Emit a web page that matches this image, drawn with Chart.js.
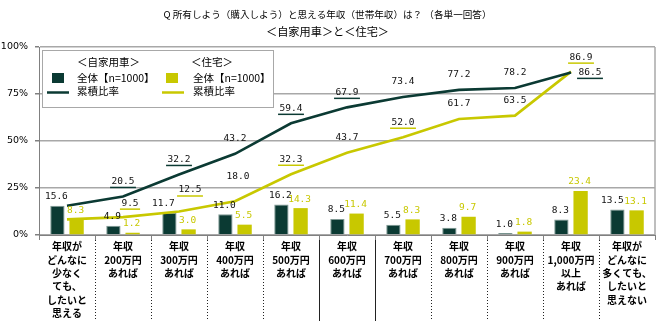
<!DOCTYPE html>
<html><head><meta charset="utf-8">
<script src="https://cdn.jsdelivr.net/npm/chart.js@4.4.1/dist/chart.umd.min.js"></script>
<style>html,body{margin:0;padding:0;background:#fff;}#wrap{position:relative;width:657px;height:324px;}</style>
</head><body><div id="wrap"><canvas id="c" width="657" height="324"></canvas></div>
<script>
// ---- data ----
const categories = [
  ['年収が','どんなに','少なく','ても、','したいと','思える'],
  ['年収','200万円','あれば'],
  ['年収','300万円','あれば'],
  ['年収','400万円','あれば'],
  ['年収','500万円','あれば'],
  ['年収','600万円','あれば'],
  ['年収','700万円','あれば'],
  ['年収','800万円','あれば'],
  ['年収','900万円','あれば'],
  ['年収','1,000万円','以上','あれば'],
  ['年収が','どんなに','多くても、','したいと','思えない']
];
const carShare = [15.6, 4.9, 11.7, 11.0, 16.2, 8.5, 5.5, 3.8, 1.0, 8.3, 13.5];
const houseShare = [8.3, 1.2, 3.0, 5.5, 14.3, 11.4, 8.3, 9.7, 1.8, 23.4, 13.1];
const carCumulative = [15.6, 20.5, 32.2, 43.2, 59.4, 67.9, 73.4, 77.2, 78.2, 86.5, null];
const houseCumulative = [8.3, 9.5, 12.5, 18.0, 32.3, 43.7, 52.0, 61.7, 63.5, 86.9, null];
const yTickValues = [0, 25, 50, 75, 100];
const titleLine = 'Q 所有しよう（購入しよう）と思える年収（世帯年収）は？ （各単一回答）';
const subtitleLine = '＜自家用車＞と＜住宅＞';
const legendHeaders = ['＜自家用車＞', '＜住宅＞'];
const legendBarLabel = '全体【n=1000】';
const legendLineLabel = '累積比率';

// ---- styles ----
const DARK = '#0b3a33';
const YEL = '#c8c800';
const carUnderline = [false, true, true, false, true, true, false, false, false, true];
const houseUnderline = [false, true, true, false, true, false, true, false, false, true];
const carNudge = {9: [19, 0]};
const houseNudge = {1: [7, -14], 2: [11, -21.5], 3: [3, -24.5], 9: [10, -14.5]};
const carBarNudge = {2: -6, 10: -5};
const NUMFONT = '9.5px "DejaVu Sans Mono"';
const JPFONT = '"Noto Sans CJK JP"';

const valueLabels = {
  id: 'valueLabels',
  afterDatasetsDraw(chart) {
    const ctx = chart.ctx;
    ctx.save();
    ctx.font = NUMFONT;
    ctx.textAlign = 'center';
    ctx.textBaseline = 'middle';
    [0, 1].forEach(di => {
      const meta = chart.getDatasetMeta(di);
      const ds = chart.data.datasets[di];
      meta.data.forEach((el, i) => {
        const dx = di === 0 ? (carBarNudge[i] || -1) : -1;
        ctx.fillStyle = di === 0 ? '#111111' : YEL;
        ctx.fillText(ds.data[i].toFixed(1), el.x + dx, el.y - 9);
      });
    });
    [[2, carUnderline, carNudge, DARK], [3, houseUnderline, houseNudge, YEL]].forEach(([di, ul, nudge, col]) => {
      const meta = chart.getDatasetMeta(di);
      const ds = chart.data.datasets[di];
      meta.data.forEach((el, i) => {
        const v = ds.data[i];
        if (i === 0 || v === null) return;
        const n = nudge[i] || [0, -15];
        const x = el.x + n[0], y = el.y + n[1];
        const txt = v.toFixed(1);
        ctx.fillStyle = '#111111';
        ctx.fillText(txt, x, y);
        if (ul[i]) {
          const w = ctx.measureText(txt).width + 3;
          ctx.strokeStyle = col;
          ctx.lineWidth = 1.5;
          ctx.beginPath();
          ctx.moveTo(x - w / 2, y + 6);
          ctx.lineTo(x + w / 2, y + 6);
          ctx.stroke();
        }
      });
    });
    ctx.restore();
  }
};

const frame = {
  id: 'frame',
  afterDraw(chart) {
    const ctx = chart.ctx;
    const a = chart.chartArea;
    const xs = chart.scales.x;
    ctx.save();
    ctx.strokeStyle = '#a8a8a8';
    ctx.lineWidth = 1.5;
    ctx.beginPath();
    ctx.moveTo(a.right, a.top);
    ctx.lineTo(a.right, a.bottom);
    ctx.stroke();
    ctx.strokeStyle = '#222222';
    ctx.lineWidth = 1;
    for (let i = 1; i < categories.length; i++) {
      const x = Math.round((xs.getPixelForValue(i - 1) + xs.getPixelForValue(i)) / 2) + 0.5;
      ctx.setLineDash(i === 5 || i === 6 ? [] : [1, 2]);
      ctx.beginPath();
      ctx.moveTo(x, a.bottom + 5);
      ctx.lineTo(x, 321);
      ctx.stroke();
    }
    ctx.setLineDash([]);
    const lx = 42.5, ly = 50.5, lw = 231, lh = 57;
    ctx.fillStyle = '#ffffff';
    ctx.fillRect(lx, ly, lw, lh);
    ctx.strokeStyle = '#a8a8a8';
    ctx.lineWidth = 1;
    ctx.strokeRect(lx, ly, lw, lh);
    ctx.font = '10.5px ' + JPFONT;
    ctx.textBaseline = 'middle';
    ctx.textAlign = 'left';
    const cols = [[77, 52, 47, DARK], [191, 166, 162, YEL]];
    cols.forEach(([tx, sx, lnx, col], k) => {
      ctx.fillStyle = '#000000';
      ctx.fillText(legendHeaders[k], tx, 62);
      ctx.fillText(legendBarLabel, tx + (k === 1 ? 2 : 0), 78);
      ctx.fillText(legendLineLabel, tx + (k === 1 ? 2 : 0), 91);
      ctx.fillStyle = col;
      ctx.fillRect(sx, 73, 12, 10);
      ctx.strokeStyle = col;
      ctx.lineWidth = 2.5;
      ctx.beginPath();
      ctx.moveTo(lnx, 92.5);
      ctx.lineTo(lnx + 22, 92.5);
      ctx.stroke();
    });
    ctx.restore();
  }
};

new Chart(document.getElementById('c'), {
  type: 'bar',
  data: {
    labels: categories,
    datasets: [
      {type: 'bar', label: '自家用車 全体', data: carShare, backgroundColor: DARK, borderColor: '#7f9994', borderWidth: 1,
       categoryPercentage: 0.686, barPercentage: 0.745, order: 2},
      {type: 'bar', label: '住宅 全体', data: houseShare, backgroundColor: YEL, borderWidth: 0,
       categoryPercentage: 0.686, barPercentage: 0.745, order: 2},
      {type: 'line', label: '自家用車 累積比率', data: carCumulative, borderColor: DARK, borderWidth: 2.6,
       pointRadius: 0, tension: 0, fill: false, order: 1},
      {type: 'line', label: '住宅 累積比率', data: houseCumulative, borderColor: YEL, borderWidth: 2.6,
       pointRadius: 0, tension: 0, fill: false, order: 1}
    ]
  },
  options: {
    responsive: false,
    animation: false,
    devicePixelRatio: 1,
    layout: {padding: {left: 0, right: 2, top: 0, bottom: 0}},
    plugins: {
      legend: {display: false},
      tooltip: {enabled: false},
      title: {
        display: true,
        text: titleLine,
        color: '#000000',
        font: {family: JPFONT, size: 9.6, weight: 'normal', lineHeight: 17 / 9.6},
        padding: {top: 6, bottom: 0}
      },
      subtitle: {
        display: true,
        text: subtitleLine,
        color: '#000000',
        font: {family: JPFONT, size: 11.2, weight: 'normal', lineHeight: 17 / 11.2},
        padding: {top: 0, bottom: 7}
      }
    },
    scales: {
      x: {
        offset: true,
        grid: {display: true, drawOnChartArea: false, drawTicks: true, tickLength: 5, color: '#808080', offset: true},
        border: {display: true, color: '#808080', width: 1},
        ticks: {autoSkip: false, maxRotation: 0, minRotation: 0, padding: 0, color: '#000000',
          font: {family: JPFONT, size: 10, weight: 'bold', lineHeight: 1.33}},
        afterFit(scale) { scale.height = 89; }
      },
      y: {
        min: 0, max: 100,
        afterBuildTicks(scale) { scale.ticks = yTickValues.map(v => ({value: v})); },
        grid: {color: '#a8a8a8', lineWidth: 1.5, drawTicks: true, tickLength: 4, tickColor: '#808080'},
        border: {display: true, color: '#808080', width: 1},
        ticks: {padding: 7, color: '#000000', font: {family: '"DejaVu Sans"', size: 9.5},
          callback: v => v + '%'},
        afterFit(scale) { scale.width = 39; }
      }
    }
  },
  plugins: [valueLabels, frame]
});
</script></body></html>
